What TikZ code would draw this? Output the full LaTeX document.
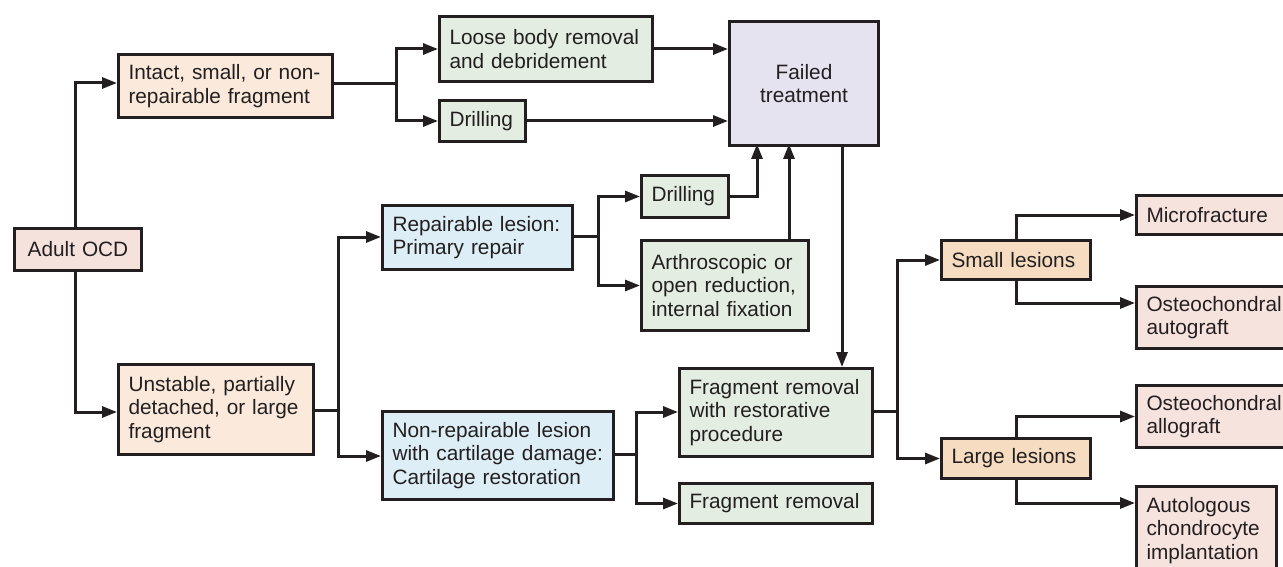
\documentclass[tikz,border=0pt]{standalone}
\usepackage{fontspec}
\setmainfont{Liberation Sans}
\usetikzlibrary{arrows.meta,calc,positioning}
\definecolor{ink}{HTML}{231F20}
\definecolor{cocd}{HTML}{F6E2DD}
\definecolor{cpeach}{HTML}{FBEADC}
\definecolor{cgreen}{HTML}{E3EDE1}
\definecolor{cblue}{HTML}{DDEEF6}
\definecolor{clav}{HTML}{E6E3F0}
\definecolor{ctan}{HTML}{F6DCC0}
\definecolor{cpink}{HTML}{F7E3DE}
\tikzset{
  box/.style={draw=ink, line width=3pt, anchor=north west, inner xsep=10pt, inner ysep=0pt,
    align=left, text=ink, font=\fontsize{20.8}{23.5}\selectfont},
  conn/.style={draw=ink, line width=3pt},
  arr/.style={conn, -{Triangle[length=15pt,width=11pt]}},
}
\newcommand{\bx}[8]{% name, x1,y1,x2,y2, fill, align, text
  \pgfmathsetmacro{\bw}{#4-#2}\pgfmathsetmacro{\bh}{#5-#3}\pgfmathsetmacro{\tw}{#4-#2-20}
  \node[box, fill=#6, minimum width=\bw pt, minimum height=\bh pt, text width=\tw pt, align=#7] (#1) at (#2,#3) {#8};
}
\begin{document}
\begin{tikzpicture}[x=1pt,y=-1pt]
\clip (0,0) rectangle (1283,567);
\fill[white] (0,0) rectangle (1283,567);
\bx{ocd}{13}{227}{140}{269}{cocd}{center}{Adult OCD}
\bx{intact}{117}{53}{331}{116}{cpeach}{left}{Intact, small, or non-\\repairable fragment}
\bx{unstable}{117}{363}{312}{453}{cpeach}{left}{Unstable, partially\\detached, or large\\fragment}
\bx{loose}{438}{15}{651}{80}{cgreen}{left}{Loose body removal\\and debridement}
\bx{drillA}{438}{99}{524}{140}{cgreen}{left}{Drilling}
\bx{failed}{728}{20}{877}{144}{clav}{center}{Failed\\treatment}
\bx{repair}{381}{204}{571}{268}{cblue}{left}{Repairable lesion:\\Primary repair}
\bx{nonrep}{381}{410}{612}{498}{cblue}{left}{Non-repairable lesion\\with cartilage damage:\\Cartilage restoration}
\bx{drillB}{640}{174}{727}{216}{cgreen}{left}{Drilling}
\bx{arthro}{640}{239}{807}{329}{cgreen}{left}{Arthroscopic or\\open reduction,\\internal fixation}
\bx{restor}{678}{367}{871}{455}{cgreen}{left}{Fragment removal\\with restorative\\procedure}
\bx{fragrem}{678}{482}{871}{522}{cgreen}{left}{Fragment removal}
\bx{small}{940}{239}{1089}{278}{ctan}{left}{Small lesions}
\bx{large}{940}{437}{1089}{477}{ctan}{left}{Large lesions}
\bx{micro}{1135}{194}{1320}{233}{cpink}{left}{Microfracture}
\bx{autog}{1135}{285}{1320}{347}{cpink}{left}{Osteochondral\\autograft}
\bx{allog}{1135}{384}{1320}{446}{cpink}{left}{Osteochondral\\allograft}
\bx{aci}{1135}{485}{1275}{573}{cpink}{left}{Autologous\\chondrocyte\\implantation}
% connectors
\coordinate (jA) at (396,84);
\coordinate (jB) at (338,410);
\coordinate (jC) at (598,236);
\coordinate (jD) at (636,454);
\coordinate (jE) at (897,411);
\coordinate (fA) at (757,144);
\coordinate (fB) at (789,144);
\coordinate (fC) at (842,144);
\coordinate (tA) at (1135,303);
\coordinate (tB) at (1135,503);
\draw[arr] (ocd.north -| 75,0) |- (intact.west |- 0,83);
\draw[arr] (ocd.south -| 75,0) |- (unstable.west |- 0,412);
\draw[conn] (intact.east |- jA) -- (jA);
\draw[arr] (jA) |- (loose.west);
\draw[arr] (jA) |- (drillA.west);
\draw[arr] (loose.east) -- (loose.east -| failed.west);
\draw[arr] (drillA.east) -- (drillA.east -| failed.west);
\draw[conn] (unstable.east |- jB) -- (jB);
\draw[arr] (jB) |- (repair.west |- 0,237);
\draw[arr] (jB) |- (nonrep.west |- 0,456);
\draw[conn] (repair.east |- jC) -- (jC);
\draw[arr] (jC) |- (drillB.west);
\draw[arr] (jC) |- (arthro.west);
\draw[arr] (drillB.east) -| (fA);
\draw[arr] (arthro.north -| fB) -- (fB);
\draw[arr] (fC) -- (restor.north -| fC);
\draw[conn] (nonrep.east |- jD) -- (jD);
\draw[arr] (jD) |- (restor.west |- 0,412);
\draw[arr] (jD) |- (fragrem.west);
\draw[conn] (restor.east |- jE) -- (jE);
\draw[arr] (jE) |- (small.west);
\draw[arr] (jE) |- (large.west);
\draw[arr] (small.north) |- (micro.west);
\draw[arr] (small.south) |- (tA);
\draw[arr] (large.north) |- (allog.west);
\draw[arr] (large.south) |- (tB);
\end{tikzpicture}
\end{document}
